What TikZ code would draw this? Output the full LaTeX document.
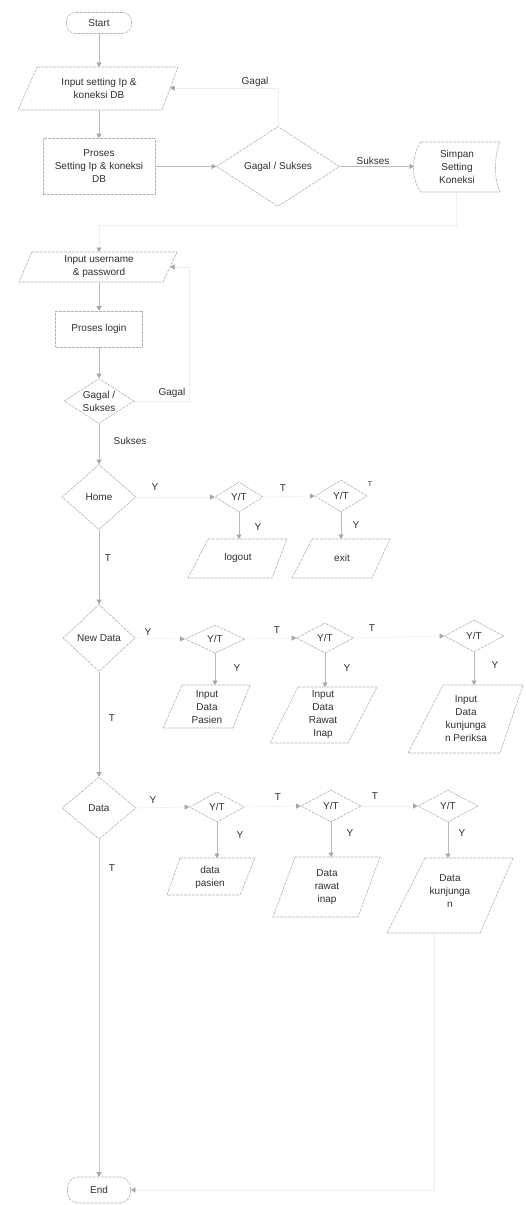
\documentclass[tikz,border=0pt]{standalone}
\usepackage{fontspec}
\setmainfont{Liberation Sans}
\usetikzlibrary{shapes.geometric,arrows.meta}
\begin{document}
\begin{tikzpicture}[x=1pt,y=-1pt,
 shp/.style={draw=gray!60, line width=0.6pt, dash pattern=on 3pt off 1pt},
 txt/.style={text=black!82, font=\fontsize{10}{13}\selectfont, align=center, inner sep=0pt},
 lbl/.style={text=black!82, font=\fontsize{10}{12}\selectfont, inner sep=0pt},
 conn/.style={draw=gray!55, line width=0.6pt, -{Triangle[length=4.5pt,width=5pt,color=gray!70]}},
 faint/.style={conn, draw=gray!13},
 term/.style={shp, txt, rounded corners=9pt, minimum width=65pt, minimum height=21pt},
 proc/.style={shp, txt},
 dec/.style={shp, txt, diamond, aspect=1.5},
]
\useasboundingbox (0,0) rectangle (526,1205);

% ---------- top column ----------
\node[term] (start) at (99,23) {Start};

\draw[shp] (37,67) -- (178,67) -- (162,110) -- (18,110) -- cycle;
\node[txt] (in1) at (99,88.5) {Input setting Ip \&\\koneksi DB};
\coordinate (in1N) at (99,67);
\coordinate (in1S) at (99,110);
\coordinate (in1E) at (170,88);

\node[proc, minimum width=112pt, minimum height=56pt] (pro) at (99,166.5) {Proses\\Setting Ip \& koneksi\\DB};

\node[dec, minimum width=123pt, minimum height=80pt] (dia1) at (278,166.5) {Gagal / Sukses};

\draw[shp] (421,142) -- (500,142) .. controls (494,155) and (494,180) .. (500,192) -- (421,192) .. controls (411,180) and (411,155) .. (421,142) -- cycle;
\node[txt] (simpan) at (457,167) {Simpan\\Setting\\Koneksi};
\coordinate (simW) at (414,166.5);
\coordinate (simS) at (456,192);

\draw[shp] (32,252) -- (177,252) -- (163,282) -- (19,282) -- cycle;
\node[txt] (in2) at (99,267) {Input username\\\& password};
\coordinate (in2N) at (99,252);
\coordinate (in2S) at (99,282);
\coordinate (in2E) at (170,267);

\node[proc, minimum width=87pt, minimum height=36pt] (login) at (99,329) {Proses login};

\node[dec, minimum width=70pt, minimum height=45pt] (dia2) at (99,401) {Gagal /\\Sukses};

% ---------- Home row ----------
\node[dec, minimum width=74pt, minimum height=65pt] (home) at (99,497) {Home};
\node[dec, minimum width=48pt, minimum height=30pt] (yt1a) at (239,497) {Y/T};
\node[dec, minimum width=52pt, minimum height=32pt] (yt1b) at (341,496) {Y/T};

\draw[shp] (208,539) -- (287,539) -- (272,578) -- (188,578) -- cycle;
\node[txt] (logout) at (238,558) {logout};
\coordinate (logoutN) at (239,539);
\draw[shp] (312,539) -- (390,539) -- (372,578) -- (292,578) -- cycle;
\node[txt] (exit) at (342,558) {exit};
\coordinate (exitN) at (341,539);

% ---------- New Data row ----------
\node[dec, minimum width=72pt, minimum height=67pt] (newdata) at (99,638) {New Data};
\node[dec, minimum width=60pt, minimum height=28pt] (yt2a) at (215,639) {Y/T};
\node[dec, minimum width=57pt, minimum height=30pt] (yt2b) at (325,638) {Y/T};
\node[dec, minimum width=59pt, minimum height=32pt] (yt2c) at (474,636) {Y/T};

\draw[shp] (182,685) -- (250,685) -- (233,728) -- (163,728) -- cycle;
\node[txt] (inpasien) at (207,707) {Input\\Data\\Pasien};
\coordinate (inpasienN) at (215,685);
\draw[shp] (298,687) -- (377,687) -- (348,743) -- (270,743) -- cycle;
\node[txt] (inrawat) at (323,715) {Input\\Data\\Rawat\\Inap};
\coordinate (inrawatN) at (325,687);
\draw[shp] (443,685) -- (523,685) -- (500,753) -- (408,753) -- cycle;
\node[txt] (inkunj) at (466,719) {Input\\Data\\kunjunga\\n Periksa};
\coordinate (inkunjN) at (474,685);

% ---------- Data row ----------
\node[dec, minimum width=74pt, minimum height=62pt] (data) at (99,808) {Data};
\node[dec, minimum width=55pt, minimum height=30pt] (yt3a) at (217,807) {Y/T};
\node[dec, minimum width=60pt, minimum height=32pt] (yt3b) at (331,806) {Y/T};
\node[dec, minimum width=60pt, minimum height=32pt] (yt3c) at (448,806) {Y/T};

\draw[shp] (180,858) -- (255,858) -- (240,895) -- (167,895) -- cycle;
\node[txt] (outpasien) at (210,877) {data\\pasien};
\coordinate (outpasienN) at (217,858);
\draw[shp] (295,857) -- (380,857) -- (358,917) -- (273,917) -- cycle;
\node[txt] (outrawat) at (327,887) {Data\\rawat\\inap};
\coordinate (outrawatN) at (331,857);
\draw[shp] (425,858) -- (513,858) -- (480,933) -- (387,933) -- cycle;
\node[txt] (outkunj) at (450,891) {Data\\kunjunga\\n};
\coordinate (outkunjN) at (448,858);
\coordinate (outkunjS) at (434,933);

\node[term, minimum width=63pt, minimum height=26pt, rounded corners=11pt] (end) at (99,1190) {End};

% ---------- connectors ----------
\draw[conn] (start) -- (in1N);
\draw[conn] (in1S) -- (pro);
\draw[conn] (pro.east) -- (dia1.west);
\draw[conn] (dia1.east) -- (simW);
\node[lbl] at (373,161) {Sukses};
\draw[faint] (dia1.north) |- (in1E);
\node[lbl] at (255,82) {Gagal};
\draw[faint] (simS) -- ++(0,33) -| (in2N);

\draw[conn] (in2S) -- (login);
\draw[conn] (login) -- (dia2);
\draw[conn] (dia2) -- (home);
\node[lbl] at (130,441) {Sukses};
\draw[faint] (dia2.east) -- ++(55,0) |- (in2E);
\node[lbl] at (172,393) {Gagal};

\draw[faint] (home.east) -- (yt1a.west);
\node[lbl] at (155,487) {Y};
\draw[faint] (yt1a.east) -- (yt1b.west);
\node[lbl] at (283,488) {T};
\node[lbl, font=\fontsize{7}{8}\selectfont] at (370,484) {T};
\draw[conn] (yt1a.south) -- (logoutN);
\node[lbl] at (258,527) {Y};
\draw[conn] (yt1b.south) -- (exitN);
\node[lbl] at (356,525) {Y};
\draw[conn] (home) -- (newdata);
\node[lbl] at (108,558) {T};

\draw[faint] (newdata.east) -- (yt2a.west);
\node[lbl] at (148,632) {Y};
\draw[faint] (yt2a.east) -- (yt2b.west);
\node[lbl] at (277,630) {T};
\draw[faint] (yt2b.east) -- (yt2c.west);
\node[lbl] at (372,628) {T};
\draw[conn] (yt2a.south) -- (inpasienN);
\node[lbl] at (237,668) {Y};
\draw[conn] (yt2b.south) -- (inrawatN);
\node[lbl] at (347,668) {Y};
\draw[conn] (yt2c.south) -- (inkunjN);
\node[lbl] at (495,665) {Y};
\draw[conn] (newdata) -- (data);
\node[lbl] at (112,718) {T};

\draw[faint] (data.east) -- (yt3a.west);
\node[lbl] at (153,800) {Y};
\draw[faint] (yt3a.east) -- (yt3b.west);
\node[lbl] at (278,797) {T};
\draw[faint] (yt3b.east) -- (yt3c.west);
\node[lbl] at (375,796) {T};
\draw[conn] (yt3a.south) -- (outpasienN);
\node[lbl] at (240,835) {Y};
\draw[conn] (yt3b.south) -- (outrawatN);
\node[lbl] at (350,833) {Y};
\draw[conn] (yt3c.south) -- (outkunjN);
\node[lbl] at (462,833) {Y};
\draw[conn, draw=gray!40] (data) -- (end);
\node[lbl] at (112,868) {T};

\draw[faint] (outkunjS) |- (end.east);
\end{tikzpicture}
\end{document}
